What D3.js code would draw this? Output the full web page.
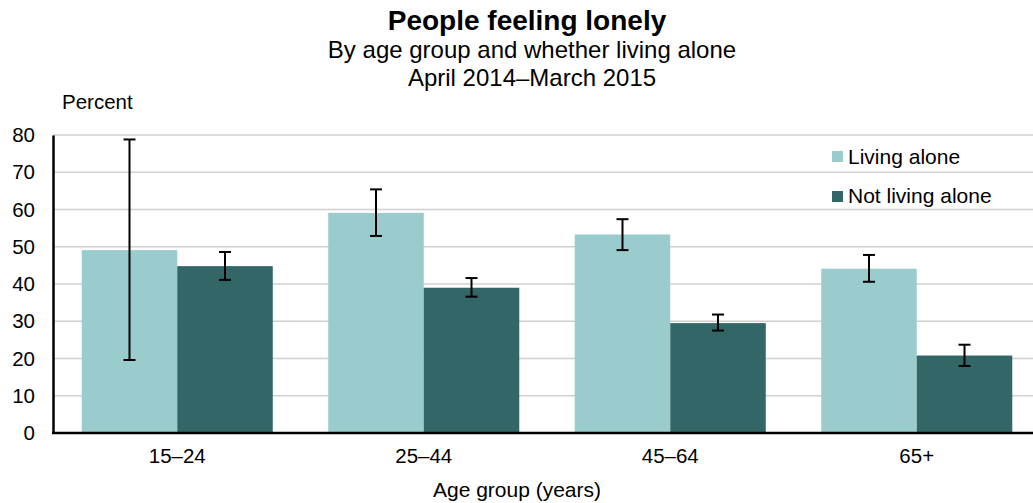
<!DOCTYPE html>
<html><head><meta charset="utf-8">
<script src="https://cdn.jsdelivr.net/npm/d3@7"></script>
<style>body{margin:0;background:#fff}svg{display:block;font-family:"Liberation Sans",Arial,sans-serif}</style>
</head><body><svg id="c" width="1033" height="503"></svg>
<script>
const categories = ["15–24","25–44","45–64","65+"];
const seriesNames = ["Living alone","Not living alone"];
const livingAlone = [49.1, 59.1, 53.3, 44.1];
const notLivingAlone = [44.8, 39.0, 29.5, 20.8];
const livingAloneLow = [19.6, 52.9, 49.1, 40.6];
const livingAloneHigh = [78.8, 65.4, 57.4, 47.8];
const notLivingAloneLow = [41.1, 36.6, 27.5, 18.0];
const notLivingAloneHigh = [48.6, 41.6, 31.8, 23.7];
const yTicks = [0,10,20,30,40,50,60,70,80];
const colors = ["#9bcccd","#336666"];

const svg = d3.select("#c");
const x0 = d3.scaleBand().domain(categories).range([54, 1040]).paddingInner(0.225).paddingOuter(0.1125);
const x1 = d3.scaleBand().domain(seriesNames).range([0, x0.bandwidth()]);
const y = d3.scaleLinear().domain([0,80]).range([433,135]);

// gridlines
svg.append("g").selectAll("line").data(yTicks.slice(1)).join("line")
  .attr("x1",53).attr("x2",1033).attr("y1",d=>y(d)).attr("y2",d=>y(d))
  .attr("stroke","#d0d0d0").attr("stroke-width",1.5);

const series = [
  {name: seriesNames[0], vals: livingAlone, lo: livingAloneLow, hi: livingAloneHigh, color: colors[0]},
  {name: seriesNames[1], vals: notLivingAlone, lo: notLivingAloneLow, hi: notLivingAloneHigh, color: colors[1]}
];
series.forEach(s => {
  const g = svg.append("g");
  g.selectAll("rect").data(categories).join("rect")
    .attr("x", (c)=>x0(c)+x1(s.name)).attr("width", x1.bandwidth())
    .attr("y", (c,i)=>y(s.vals[i])).attr("height",(c,i)=>y(0)-y(s.vals[i]))
    .attr("fill", s.color);
});
series.forEach(s => {
  const g = svg.append("g").attr("stroke","#000").attr("stroke-width",2);
  categories.forEach((c,i)=>{
    const cx = x0(c)+x1(s.name)+x1.bandwidth()/2;
    g.append("line").attr("x1",cx).attr("x2",cx).attr("y1",y(s.lo[i])).attr("y2",y(s.hi[i]));
    g.append("line").attr("x1",cx-6).attr("x2",cx+6).attr("y1",y(s.lo[i])).attr("y2",y(s.lo[i]));
    g.append("line").attr("x1",cx-6).attr("x2",cx+6).attr("y1",y(s.hi[i])).attr("y2",y(s.hi[i]));
  });
});

// axes
const yAxis = svg.append("g").attr("transform","translate(53,0)")
  .call(d3.axisLeft(y).tickValues(yTicks).tickSize(0).tickPadding(18));
yAxis.select(".domain").attr("stroke","#000").attr("stroke-width",2.5);
yAxis.selectAll("text").attr("font-size",20.5).attr("fill","#000").attr("font-family","Liberation Sans, Arial, sans-serif");

const xAxis = svg.append("g").attr("transform","translate(0,433)")
  .call(d3.axisBottom(x0).tickSize(0).tickPadding(15));
xAxis.select(".domain").remove();
xAxis.selectAll("text").attr("font-size",20.5).attr("fill","#000").attr("font-family","Liberation Sans, Arial, sans-serif");
svg.append("line").attr("x1",52).attr("x2",1033).attr("y1",433).attr("y2",433).attr("stroke","#000").attr("stroke-width",2.5);

// titles
svg.append("text").attr("x",527).attr("y",30).attr("text-anchor","middle").attr("font-size",28).attr("font-weight","bold").text("People feeling lonely");
svg.append("text").attr("x",532).attr("y",58).attr("text-anchor","middle").attr("font-size",24).text("By age group and whether living alone");
svg.append("text").attr("x",532).attr("y",86).attr("text-anchor","middle").attr("font-size",24).text("April 2014–March 2015");
svg.append("text").attr("x",62).attr("y",109).attr("font-size",20.5).text("Percent");
svg.append("text").attr("x",517).attr("y",497).attr("text-anchor","middle").attr("font-size",21).text("Age group (years)");

// legend
const leg = svg.append("g");
seriesNames.forEach((n,i)=>{
  leg.append("rect").attr("x",832).attr("y",151+i*40).attr("width",11).attr("height",11).attr("fill",colors[i]);
  leg.append("text").attr("x",848).attr("y",164+i*39).attr("font-size",21).text(n);
});
</script></body></html>
